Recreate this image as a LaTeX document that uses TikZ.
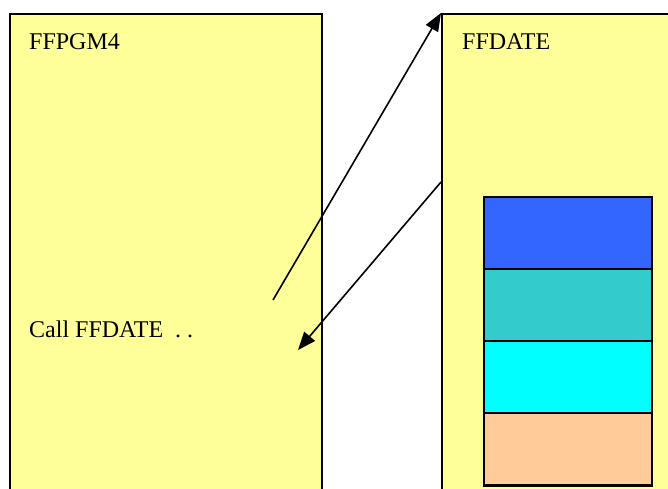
\documentclass[tikz,border=0pt]{standalone}
\usepackage{fontspec}
\setmainfont{Liberation Serif}
\usepackage{xcolor}
\usetikzlibrary{arrows.meta}
\definecolor{panelyellow}{RGB}{255,255,153}
\definecolor{slotblue}{RGB}{51,102,255}
\definecolor{slotteal}{RGB}{51,204,204}
\definecolor{slotcyan}{RGB}{0,255,255}
\definecolor{slotpeach}{RGB}{255,204,153}

\begin{document}
\begin{tikzpicture}[x=1pt, y=-1pt,
  panel/.style={draw, line width=2pt, fill=panelyellow, anchor=north west, inner sep=0pt},
  slot/.style={draw, line width=2.2pt, anchor=north west, minimum width=168pt, minimum height=72.2pt, inner sep=0pt},
  label/.style={font=\fontsize{24}{28}\selectfont, anchor=base west, inner sep=0pt},
  callarrow/.style={-{Triangle[length=18pt,width=14pt]}, line width=1.6pt}]
  \clip (0,0) rectangle (668,488);

  % Calling program
  \node[panel, minimum width=312pt, minimum height=500pt] (ffpgm4) at (9,13) {};
  \node[label] (ffpgm4lbl) at (29,49) {FFPGM4};
  \node[label] (calllbl) at (29,337) {Call FFDATE \ . .};

  % Called program
  \node[panel, minimum width=260pt, minimum height=500pt] (ffdate) at (441,13) {};
  \node[label] (ffdatelbl) at (462,49) {FFDATE};
  \node[slot, fill=slotblue] (s1) at (483,195.5) {};
  \node[slot, fill=slotteal] (s2) at (483,267.7) {};
  \node[slot, fill=slotcyan] (s3) at (483,339.9) {};
  \node[slot, fill=slotpeach] (s4) at (483,412.1) {};

  % Call and return
  \coordinate (callpt) at (273,300);
  \coordinate (retpt) at (441,182);
  \coordinate (backpt) at (298,350);
  \draw[callarrow] (callpt) -- (ffdate.north west);
  \draw[callarrow] (retpt) -- (backpt);
\end{tikzpicture}
\end{document}
